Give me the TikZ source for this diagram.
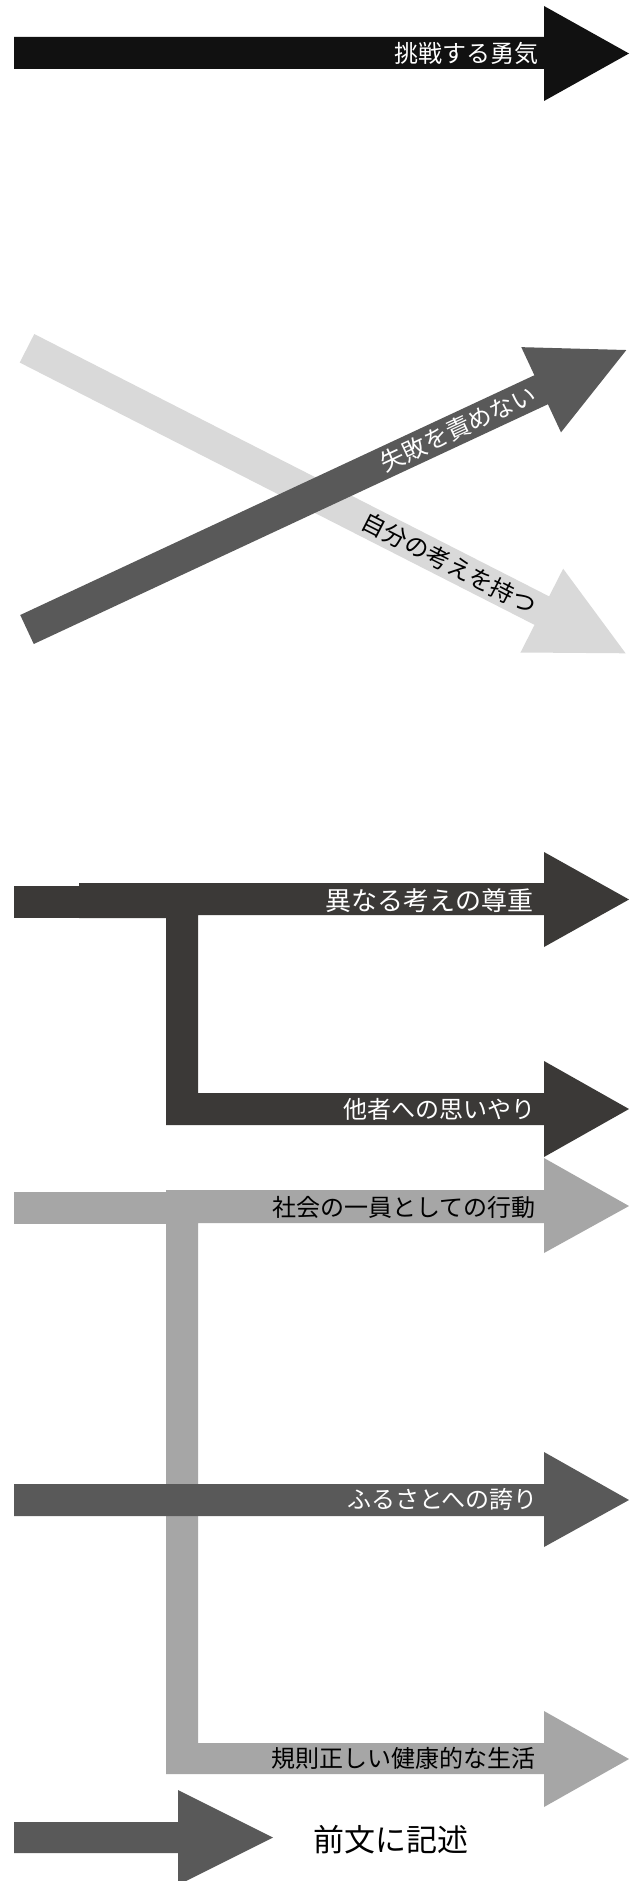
\documentclass[tikz,border=0pt]{standalone}
\usepackage{fontspec}
\setmainfont{Noto Sans CJK JP}
\definecolor{cBlack}{HTML}{111111}
\definecolor{cLight}{HTML}{D9D9D9}
\definecolor{cDark}{HTML}{595959}
\definecolor{cDeep}{HTML}{3B3937}
\definecolor{cMid}{HTML}{A6A6A6}
\tikzset{
  lbl/.style={inner sep=0pt, anchor=east, font=\fontsize{24}{24}\selectfont},
  wlbl/.style={lbl, text=white},
  klbl/.style={lbl, text=black},
}
\begin{document}
\begin{tikzpicture}[x=1pt,y=-1pt]
\useasboundingbox (0,0) rectangle (629,1881);
\clip (0,0) rectangle (629,1881);
\fill[white] (0,0) rectangle (629,1881);

% arrow 1
\fill[cBlack] (14,37) -- (544,37) -- (544,6) -- (629,53.5) -- (544,101) -- (544,69) -- (14,69) -- cycle;
\node[wlbl] (t1) at (539,53) {挑戦する勇気};

% crossing arrows
\begin{scope}[shift={(27,348.3)}, rotate=-27]
  \fill[cLight] (0,-16) -- (577.8,-16) -- (577.8,-47) -- (671.8,0) -- (577.8,47) -- (577.8,16) -- (0,16) -- cycle;
  \node[klbl, rotate=-27] (t3) at (570,0) {自分の考えを持つ};
\end{scope}
\begin{scope}[shift={(27,629.5)}, rotate=25]
  \fill[cDark] (0,-16) -- (567.3,-16) -- (567.3,-47) -- (661.3,0) -- (567.3,47) -- (567.3,16) -- (0,16) -- cycle;
  \node[wlbl, rotate=25] (t2) at (560,0) {失敗を責めない};
\end{scope}

% section 3
\fill[cDeep] (14,886) rectangle (166,918);
\fill[cDeep] (79,883) -- (544,883) -- (544,852) -- (629,899.5) -- (544,947) -- (544,915) -- (198,915)
  -- (198,1093) -- (544,1093) -- (544,1061) -- (629,1109) -- (544,1157) -- (544,1125) -- (166,1125)
  -- (166,918) -- (79,918) -- cycle;
\node[wlbl, font=\fontsize{26}{26}\selectfont] (t4) at (534,901) {異なる考えの尊重};
\node[wlbl] (t5) at (536,1109) {他者への思いやり};

% section 4
\fill[cMid] (14,1191.5) rectangle (166,1224);
\fill[cMid] (166,1190) -- (544,1190) -- (544,1158) -- (629,1206) -- (544,1253) -- (544,1223) -- (198,1223)
  -- (198,1743) -- (544,1743) -- (544,1711) -- (629,1759) -- (544,1807) -- (544,1774) -- (166,1774) -- cycle;
\node[klbl] (t6) at (536,1207) {社会の一員としての行動};
\node[klbl] (t8) at (536,1758) {規則正しい健康的な生活};

% furusato arrow
\fill[cDark] (14,1484) -- (544,1484) -- (544,1452) -- (629,1500) -- (544,1547) -- (544,1516) -- (14,1516) -- cycle;
\node[wlbl] (t7) at (538,1499) {ふるさとへの誇り};

% legend
\fill[cDark] (14,1822) -- (178,1822) -- (178,1790) -- (273,1837.5) -- (178,1885) -- (178,1853) -- (14,1853) -- cycle;
\node[inner sep=0pt, font=\fontsize{31}{31}\selectfont] (t9) at (391,1840) {前文に記述};
\end{tikzpicture}
\end{document}
